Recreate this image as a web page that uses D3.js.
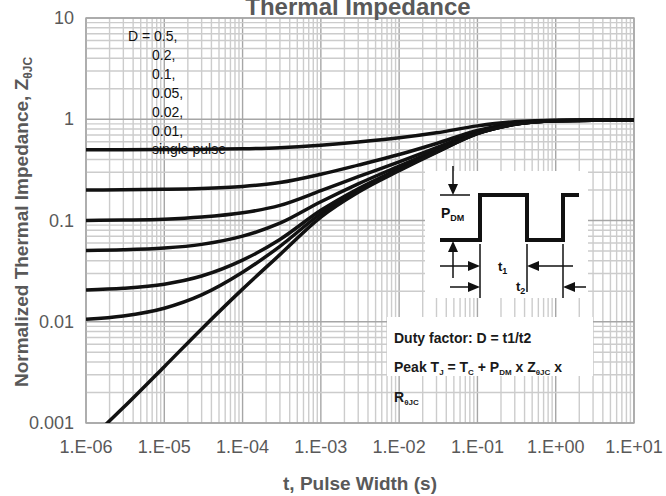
<!DOCTYPE html>
<html>
<head>
<meta charset="utf-8">
<script src="https://cdn.jsdelivr.net/npm/d3@7"></script>
<style>
  body { margin: 0; background: #fff; }
  svg { display: block; font-family: "Liberation Sans", Arial, sans-serif; }
</style>
</head>
<body>
<svg id="chart" width="666" height="496"></svg>
<script>
// pulse widths (s) where the curves were read
var pulseWidth = [1e-6, 3e-6, 1e-5, 3e-5, 1e-4, 3e-4, 1e-3, 3e-3, 1e-2, 3e-2, 1e-1, 3e-1, 1, 3, 10];

// normalized Z(thJC), one array per duty factor
var dHalf    = [0.50, 0.501, 0.502, 0.504, 0.51, 0.523, 0.554, 0.595, 0.655, 0.735, 0.86, 0.945, 0.978, 0.98, 0.98];
var dTwo     = [0.20, 0.201, 0.203, 0.207, 0.217, 0.237, 0.286, 0.352, 0.448, 0.576, 0.776, 0.912, 0.972, 0.98, 0.98];
var dOne     = [0.10, 0.101, 0.103, 0.108, 0.119, 0.141, 0.197, 0.271, 0.379, 0.523, 0.748, 0.901, 0.969, 0.98, 0.98];
var dFive    = [0.0506, 0.0513, 0.0534, 0.0581, 0.070, 0.094, 0.153, 0.23, 0.345, 0.497, 0.734, 0.896, 0.967, 0.979, 0.98];
var dTwoHund = [0.0206, 0.0214, 0.0235, 0.0283, 0.0406, 0.065, 0.126, 0.206, 0.324, 0.481, 0.726, 0.892, 0.966, 0.978, 0.98];
var dOneHund = [0.0106, 0.0114, 0.0136, 0.0184, 0.0308, 0.0556, 0.117, 0.198, 0.317, 0.475, 0.723, 0.891, 0.965, 0.978, 0.98];
var single   = [0.00063, 0.00142, 0.0036, 0.0085, 0.021, 0.046, 0.108, 0.19, 0.31, 0.47, 0.72, 0.89, 0.965, 0.978, 0.98];

var allSeries = [dHalf, dTwo, dOne, dFive, dTwoHund, dOneHund, single];
var legendLabels = ["D = 0.5,", "0.2,", "0.1,", "0.05,", "0.02,", "0.01,", "single pulse"];

var xTickValues = [1e-6, 1e-5, 1e-4, 1e-3, 1e-2, 1e-1, 1, 10];
var xTickLabels = ["1.E-06", "1.E-05", "1.E-04", "1.E-03", "1.E-02", "1.E-01", "1.E+00", "1.E+01"];
var yTickValues = [0.001, 0.01, 0.1, 1, 10];
var yTickLabels = ["0.001", "0.01", "0.1", "1", "10"];

var svg = d3.select("#chart");
var plotLeft = 86, plotRight = 634, plotTop = 18, plotBottom = 423;

var x = d3.scaleLog().domain([1e-6, 10]).range([plotLeft, plotRight]);
var y = d3.scaleLog().domain([0.001, 10]).range([plotBottom, plotTop]);

function isMajor(v) {
  var l = Math.log10(v);
  return Math.abs(l - Math.round(l)) < 1e-9;
}

// grid
var grid = svg.append("g");
grid.selectAll("line.vx")
  .data(x.ticks())
  .enter().append("line")
    .attr("x1", function(d) { return x(d); })
    .attr("x2", function(d) { return x(d); })
    .attr("y1", plotTop).attr("y2", plotBottom)
    .attr("stroke", function(d) { return isMajor(d) ? "#a6a6a6" : "#cccccc"; })
    .attr("stroke-width", 1.4);

grid.selectAll("line.hy")
  .data(y.ticks())
  .enter().append("line")
    .attr("y1", function(d) { return y(d); })
    .attr("y2", function(d) { return y(d); })
    .attr("x1", plotLeft).attr("x2", plotRight)
    .attr("stroke", function(d) { return isMajor(d) ? "#a6a6a6" : "#cccccc"; })
    .attr("stroke-width", 1.4);

grid.append("rect")
  .attr("x", plotLeft).attr("y", plotTop)
  .attr("width", plotRight - plotLeft).attr("height", plotBottom - plotTop)
  .attr("fill", "none").attr("stroke", "#a6a6a6").attr("stroke-width", 1.4);

// tick labels
svg.append("g").selectAll("text")
  .data(xTickValues)
  .enter().append("text")
    .attr("x", function(d) { return x(d); })
    .attr("y", 453)
    .attr("text-anchor", "middle")
    .attr("font-size", 18)
    .attr("fill", "#595959")
    .text(function(d, i) { return xTickLabels[i]; });

svg.append("g").selectAll("text")
  .data(yTickValues)
  .enter().append("text")
    .attr("x", 74)
    .attr("y", function(d) { return y(d) + 6; })
    .attr("text-anchor", "end")
    .attr("font-size", 18)
    .attr("fill", "#595959")
    .text(function(d, i) { return yTickLabels[i]; });

// titles
svg.append("text")
  .attr("x", 358).attr("y", 15)
  .attr("text-anchor", "middle")
  .attr("font-size", 24).attr("font-weight", "bold")
  .attr("fill", "#595959")
  .text("Thermal Impedance");

svg.append("text")
  .attr("x", 360).attr("y", 490)
  .attr("text-anchor", "middle")
  .attr("font-size", 19).attr("font-weight", "bold")
  .attr("fill", "#595959")
  .text("t, Pulse Width (s)");

var yTitle = svg.append("text")
  .attr("transform", "translate(28,222) rotate(-90)")
  .attr("text-anchor", "middle")
  .attr("font-size", 19).attr("font-weight", "bold")
  .attr("fill", "#595959");
yTitle.append("tspan").text("Normalized Thermal Impedance, Z");
yTitle.append("tspan").attr("font-size", 12).attr("dy", 4).text("θJC");

// legend text (drawn under curves)
svg.append("g").selectAll("text")
  .data(legendLabels)
  .enter().append("text")
    .attr("x", function(d, i) { return i === 0 ? 128 : 152; })
    .attr("y", function(d, i) { return 41 + i * 18.9; })
    .attr("font-size", 14)
    .attr("fill", "#111")
    .text(function(d) { return d; });

// curves
svg.append("clipPath").attr("id", "plotClip")
  .append("rect")
    .attr("x", plotLeft).attr("y", plotTop)
    .attr("width", plotRight - plotLeft).attr("height", plotBottom - plotTop);

var line = d3.line()
  .x(function(d, i) { return x(pulseWidth[i]); })
  .y(function(d) { return y(d); })
  .curve(d3.curveMonotoneX);

svg.append("g").attr("clip-path", "url(#plotClip)")
  .selectAll("path")
  .data(allSeries)
  .enter().append("path")
    .attr("d", line)
    .attr("fill", "none")
    .attr("stroke", "#111")
    .attr("stroke-width", 3.5);

// pulse inset
var inset = svg.append("g");
inset.append("rect")
  .attr("x", 425).attr("y", 171).attr("width", 163).attr("height", 127)
  .attr("fill", "#fff");

inset.append("path")
  .attr("d", "M440,240 H480 V195 H527 V240 H563 V195 H579")
  .attr("fill", "none").attr("stroke", "#111").attr("stroke-width", 4);

var thin = inset.append("g").attr("stroke", "#111").attr("stroke-width", 1.5).attr("fill", "none");
thin.append("path").attr("d", "M440,195 H470");
thin.append("path").attr("d", "M453,166 V186");
thin.append("path").attr("d", "M453,278 V250");
thin.append("path").attr("d", "M480,244 V298");
thin.append("path").attr("d", "M527,244 V292");
thin.append("path").attr("d", "M563,244 V298");
thin.append("path").attr("d", "M440,266 H470");
thin.append("path").attr("d", "M573,266 H537");
thin.append("path").attr("d", "M450,287 H470");
thin.append("path").attr("d", "M586,287 H573");

var heads = inset.append("g").attr("fill", "#111");
heads.append("path").attr("d", "M448,184 L458,184 L453,195 Z");
heads.append("path").attr("d", "M448,252 L458,252 L453,241 Z");
heads.append("path").attr("d", "M468,261 L468,271 L480,266 Z");
heads.append("path").attr("d", "M539,261 L539,271 L527,266 Z");
heads.append("path").attr("d", "M468,282 L468,292 L480,287 Z");
heads.append("path").attr("d", "M575,282 L575,292 L563,287 Z");

var pdm = inset.append("text").attr("x", 441).attr("y", 218)
  .attr("font-size", 14).attr("font-weight", "bold").attr("fill", "#111");
pdm.append("tspan").text("P");
pdm.append("tspan").attr("font-size", 9).attr("dy", 3).text("DM");

var t1 = inset.append("text").attr("x", 498).attr("y", 271)
  .attr("font-size", 13).attr("font-weight", "bold").attr("fill", "#111");
t1.append("tspan").text("t");
t1.append("tspan").attr("font-size", 9).attr("dy", 3).text("1");

var t2 = inset.append("text").attr("x", 516).attr("y", 291)
  .attr("font-size", 13).attr("font-weight", "bold").attr("fill", "#111");
t2.append("tspan").text("t");
t2.append("tspan").attr("font-size", 9).attr("dy", 3).text("2");

// duty factor note
svg.append("rect")
  .attr("x", 387).attr("y", 317).attr("width", 206).attr("height", 59)
  .attr("fill", "#fff");

var note = svg.append("g").attr("font-size", 14).attr("font-weight", "bold").attr("fill", "#1a1a1a");
note.append("text").attr("x", 394).attr("y", 343).text("Duty factor: D = t1/t2");

var peak = note.append("text").attr("x", 394).attr("y", 372);
peak.append("tspan").text("Peak T");
peak.append("tspan").attr("font-size", 8).attr("dy", 3).text("J");
peak.append("tspan").attr("dy", -3).text(" = T");
peak.append("tspan").attr("font-size", 8).attr("dy", 3).text("C");
peak.append("tspan").attr("dy", -3).text(" + P");
peak.append("tspan").attr("font-size", 8).attr("dy", 3).text("DM");
peak.append("tspan").attr("dy", -3).text(" x Z");
peak.append("tspan").attr("font-size", 8).attr("dy", 3).text("θJC");
peak.append("tspan").attr("dy", -3).text(" x");

var rth = note.append("text").attr("x", 394).attr("y", 402);
rth.append("tspan").text("R");
rth.append("tspan").attr("font-size", 8).attr("dy", 3).text("θJC");
</script>
</body>
</html>
